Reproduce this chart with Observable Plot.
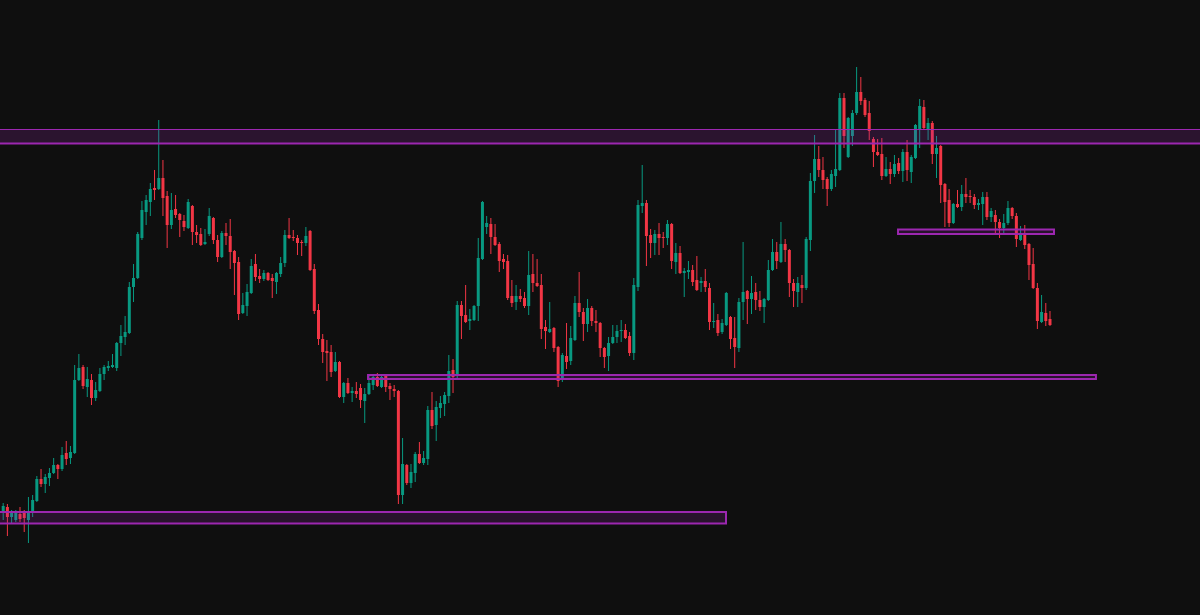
<!DOCTYPE html>
<html>
<head>
<meta charset="utf-8">
<script src="https://cdn.jsdelivr.net/npm/d3@7"></script>
<script src="https://cdn.jsdelivr.net/npm/@observablehq/plot@0.6"></script>
<style>
  html, body { margin: 0; padding: 0; background: #0f0f0f; overflow: hidden; }
  #chart svg { display: block; }
</style>
</head>
<body>
<div id="chart"></div>
<script>
// OHLC series (arbitrary price units), one value per bar
const open = [88,93,83,80,86,87,80,88,99,121,116,122,127,135,131,147,142,147,220,233,213,220,202,209,226,232,233,232,257,263,267,313,322,362,388,398,412,411,422,404,375,391,386,379,372,394,368,366,356,366,382,360,343,367,364,349,338,287,294,307,336,324,321,327,322,318,326,337,365,363,362,358,357,369,331,290,261,249,248,229,238,203,217,207,209,212,199,206,215,223,213,224,214,211,209,105,135,117,127,146,137,141,190,175,192,196,204,230,225,295,285,279,280,294,341,373,376,363,356,341,339,304,298,304,302,294,326,317,315,273,268,272,253,220,244,239,260,297,288,276,292,279,277,252,244,257,263,269,270,264,247,313,394,397,365,357,366,363,362,376,338,347,327,328,330,320,317,319,312,278,280,268,275,283,262,252,298,309,301,308,300,293,300,330,348,338,356,350,317,308,315,312,360,419,441,430,421,411,424,430,502,443,464,487,508,500,487,461,448,446,424,431,426,437,429,448,428,442,471,493,471,477,446,454,416,400,377,396,393,406,404,403,395,396,403,383,385,378,372,377,392,384,360,365,356,336,312,278,287,281];
const high = [97,96,90,90,93,90,103,105,124,131,126,132,142,136,153,159,154,235,246,235,233,226,218,232,235,239,246,258,275,284,318,336,368,399,405,417,430,480,440,409,407,405,387,385,401,395,375,372,371,392,383,365,369,377,381,350,343,307,316,341,346,331,330,328,326,328,343,370,382,370,365,360,373,370,336,296,266,260,255,248,239,218,222,213,218,216,212,225,225,227,224,225,217,215,210,162,136,136,148,158,149,194,208,199,204,208,245,241,299,299,315,291,295,362,399,384,382,376,358,346,345,320,315,311,308,349,346,341,326,280,298,273,254,247,277,274,304,328,292,301,294,290,278,253,263,275,275,280,276,268,322,400,435,400,371,370,377,368,380,377,357,354,332,339,335,344,323,331,317,297,286,281,308,284,283,302,358,310,324,317,309,302,340,361,358,378,361,351,321,323,325,363,427,465,454,443,423,430,470,507,507,483,490,533,523,502,499,463,461,462,443,438,445,442,451,460,445,476,501,500,482,479,464,455,417,411,397,410,415,422,410,406,401,408,408,392,390,381,386,399,393,387,374,375,357,352,317,305,297,289];
const low = [80,64,77,78,78,68,57,83,98,113,107,114,126,121,129,135,136,146,219,211,203,195,199,208,220,229,232,229,244,255,266,298,321,360,375,384,400,410,384,352,371,382,363,369,371,355,357,354,355,364,356,338,342,355,331,305,280,286,284,306,319,317,319,319,302,306,323,333,361,359,345,344,354,329,286,255,237,219,223,228,202,197,206,198,202,192,177,205,210,213,212,208,200,203,96,96,115,112,118,136,135,135,171,159,182,184,197,207,222,261,277,270,279,279,340,366,346,354,328,331,300,293,290,298,292,285,308,313,261,251,267,248,213,218,231,235,259,283,259,268,274,268,243,232,229,256,257,258,261,244,240,309,387,334,342,345,345,352,355,331,326,326,303,321,314,309,308,308,270,272,264,266,274,251,232,248,280,276,286,290,289,277,299,329,331,337,338,303,293,293,297,310,349,407,423,411,394,409,413,429,452,442,454,485,495,483,460,433,444,420,423,416,423,426,418,419,417,441,452,471,460,436,422,397,373,373,376,392,389,397,397,391,390,375,380,378,367,362,367,375,381,353,359,351,320,311,271,277,274,274];
const close = [94,83,87,88,81,82,88,100,121,116,123,127,135,131,145,141,148,220,232,214,221,202,210,226,233,234,235,257,264,268,313,322,366,390,400,411,410,422,402,375,390,385,380,373,398,368,365,355,358,384,360,343,367,364,348,337,286,295,308,334,323,321,327,320,319,327,337,365,362,362,357,357,364,330,289,261,248,247,228,238,203,217,207,209,206,200,206,217,223,214,223,213,211,209,105,136,117,128,146,137,142,190,174,193,197,205,229,223,295,284,278,281,294,342,398,377,363,355,339,338,302,297,304,301,294,325,317,314,271,269,271,252,219,245,238,262,297,288,276,292,279,277,252,243,257,263,269,270,262,247,315,395,397,364,357,366,362,362,376,339,347,327,329,330,318,310,319,313,278,279,267,277,307,261,253,298,308,301,307,300,293,301,330,348,339,356,350,317,309,317,312,361,419,441,430,420,411,426,431,502,464,482,487,508,499,485,469,448,445,424,431,426,436,429,448,430,443,475,494,472,477,446,452,415,398,377,396,393,406,403,403,395,397,403,383,389,378,372,377,392,384,361,365,355,335,312,279,288,279,275];

// Horizontal zones: price bounds and bar-index extents
const zoneTop    = [471, 370.5, 225, 88];
const zoneBottom = [457, 366, 221, 76.5];
const zoneStart  = [-5, 212.97, 86.9, -2];
const zoneEnd    = [290, 250.07, 260.05, 172.05];

const bars = d3.range(open.length).map(i => ({i, open: open[i], high: high[i], low: low[i], close: close[i]}));
const zones = zoneTop.map((t, k) => ({top: t, bottom: zoneBottom[k], start: zoneStart[k], end: zoneEnd[k]}));

const UP = "#089981", DOWN = "#f23645", ZONE = "#9c27b0";
const col = d => d.close >= d.open ? UP : DOWN;

const chart = Plot.plot({
  width: 1200,
  height: 615,
  margin: 0,
  x: {domain: [-0.642, 284.8], axis: null},
  y: {domain: [-15, 600], axis: null},
  style: {background: "#0f0f0f", overflow: "hidden"},
  marks: [
    Plot.ruleX(bars, {x: "i", y1: "low", y2: "high", stroke: col, strokeWidth: 1}),
    Plot.ruleX(bars, {x: "i", y1: "open", y2: "close", stroke: col, strokeWidth: 3}),
    // first zone: filled band with thin top and heavier bottom edge
    Plot.rect(zones.slice(0, 1), {x1: "start", x2: "end", y1: "bottom", y2: "top", fill: ZONE, fillOpacity: 0.2, clip: true}),
    Plot.ruleY(zones.slice(0, 1), {y: "top", stroke: ZONE, strokeWidth: 1.2, clip: true}),
    Plot.ruleY(zones.slice(0, 1), {y: "bottom", stroke: ZONE, strokeWidth: 2, clip: true}),
    // other zones: outlined boxes
    Plot.rect(zones.slice(1), {x1: "start", x2: "end", y1: "bottom", y2: "top", fill: ZONE, fillOpacity: 0.18, stroke: ZONE, strokeWidth: 2, clip: true})
  ]
});
document.getElementById("chart").appendChild(chart);
</script>
</body>
</html>
